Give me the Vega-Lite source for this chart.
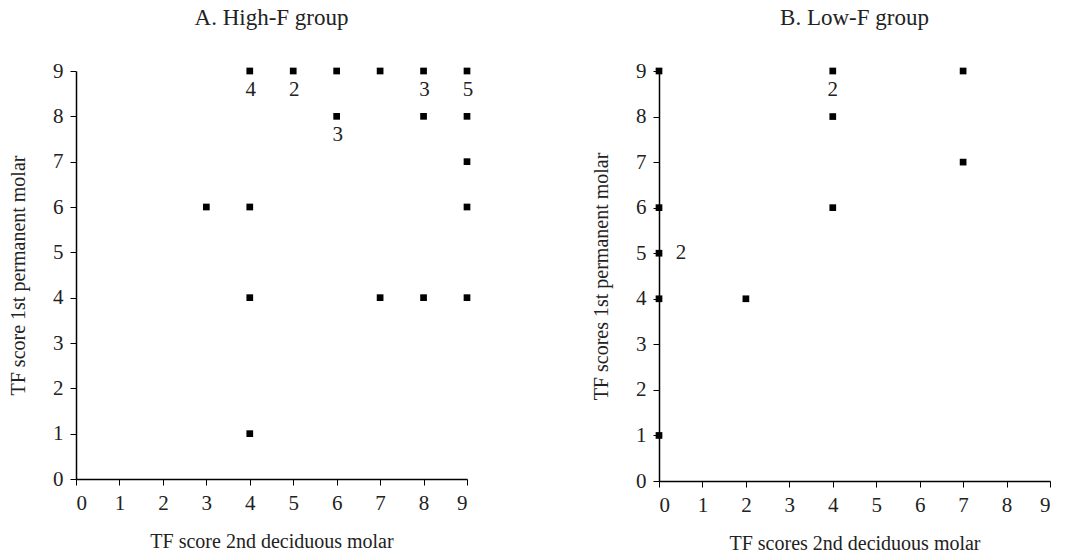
{
  "$schema": "https://vega.github.io/schema/vega-lite/v6.json",
  "background": "white",
  "padding": {"left": 8, "top": 7, "right": 10, "bottom": 0},
  "datasets": {
    "A": [
      {"x": 3, "y": 6}, {"x": 4, "y": 9}, {"x": 4, "y": 6}, {"x": 4, "y": 4}, {"x": 4, "y": 1},
      {"x": 5, "y": 9}, {"x": 6, "y": 9}, {"x": 6, "y": 8}, {"x": 7, "y": 9}, {"x": 7, "y": 4},
      {"x": 8, "y": 9}, {"x": 8, "y": 8}, {"x": 8, "y": 4}, {"x": 9, "y": 9}, {"x": 9, "y": 8},
      {"x": 9, "y": 7}, {"x": 9, "y": 6}, {"x": 9, "y": 4}
    ],
    "Alab": [
      {"x": 4, "y": 9, "n": "4"}, {"x": 5, "y": 9, "n": "2"}, {"x": 6, "y": 8, "n": "3"},
      {"x": 8, "y": 9, "n": "3"}, {"x": 9, "y": 9, "n": "5"}
    ],
    "B": [
      {"x": 0, "y": 9}, {"x": 0, "y": 6}, {"x": 0, "y": 5}, {"x": 0, "y": 4}, {"x": 0, "y": 1},
      {"x": 2, "y": 4}, {"x": 4, "y": 9}, {"x": 4, "y": 8}, {"x": 4, "y": 6}, {"x": 7, "y": 9},
      {"x": 7, "y": 7}
    ],
    "Blab": [
      {"x": 4, "y": 9, "n": "2"}, {"x": 0, "y": 5, "n": "2"}
    ]
  },
  "config": {
    "font": "Liberation Serif",
    "view": {"stroke": null},
    "axis": {
      "grid": false, "domainColor": "#000", "tickColor": "#000", "tickSize": 6,
      "labelFont": "Liberation Serif", "labelFontSize": 21, "labelColor": "#222",
      "titleFont": "Liberation Serif", "titleFontSize": 20, "titleFontWeight": "normal", "titleColor": "#222",
      "domainWidth": 1.5, "labelPadding": 7
    },
    "title": {"font": "Liberation Serif", "fontSize": 23, "fontWeight": "normal", "color": "#222", "offset": 30}
  },
  "spacing": 117,
  "hconcat": [
    {
      "title": "A.  High-F  group",
      "width": 391, "height": 408,
      "layer": [
        {
          "data": {"name": "A"},
          "mark": {"type": "point", "shape": "square", "filled": true, "color": "#000", "size": 45, "opacity": 1},
          "encoding": {
            "x": {"field": "x", "type": "quantitative", "scale": {"domain": [0, 9], "nice": false}, "axis": {"values": [0,1,2,3,4,5,6,7,8,9], "title": "TF score 2nd deciduous molar", "titlePadding": 18}},
            "y": {"field": "y", "type": "quantitative", "scale": {"domain": [0, 9], "nice": false}, "axis": {"values": [0,1,2,3,4,5,6,7,8,9], "title": "TF score 1st permanent molar", "titlePadding": 24}}
          }
        },
        {
          "data": {"name": "Alab"},
          "mark": {"type": "text", "fontSize": 21, "color": "#222", "dy": 19, "dx": 1},
          "encoding": {
            "x": {"field": "x", "type": "quantitative"},
            "y": {"field": "y", "type": "quantitative"},
            "text": {"field": "n"}
          }
        }
      ]
    },
    {
      "title": "B.  Low-F  group",
      "width": 391, "height": 410,
      "layer": [
        {
          "data": {"name": "B"},
          "mark": {"type": "point", "shape": "square", "filled": true, "color": "#000", "size": 45, "opacity": 1},
          "encoding": {
            "x": {"field": "x", "type": "quantitative", "scale": {"domain": [0, 9], "nice": false}, "axis": {"values": [0,1,2,3,4,5,6,7,8,9], "title": "TF scores 2nd deciduous molar", "titlePadding": 18}},
            "y": {"field": "y", "type": "quantitative", "scale": {"domain": [0, 9], "nice": false}, "axis": {"values": [0,1,2,3,4,5,6,7,8,9], "title": "TF scores 1st permanent molar", "titlePadding": 24}}
          }
        },
        {
          "data": {"name": "Blab"},
          "transform": [{"filter": "datum.x > 0"}],
          "mark": {"type": "text", "fontSize": 21, "color": "#222", "dy": 19},
          "encoding": {
            "x": {"field": "x", "type": "quantitative"},
            "y": {"field": "y", "type": "quantitative"},
            "text": {"field": "n"}
          }
        },
        {
          "data": {"name": "Blab"},
          "transform": [{"filter": "datum.x == 0"}],
          "mark": {"type": "text", "fontSize": 21, "color": "#222", "dx": 22},
          "encoding": {
            "x": {"field": "x", "type": "quantitative"},
            "y": {"field": "y", "type": "quantitative"},
            "text": {"field": "n"}
          }
        }
      ]
    }
  ]
}
